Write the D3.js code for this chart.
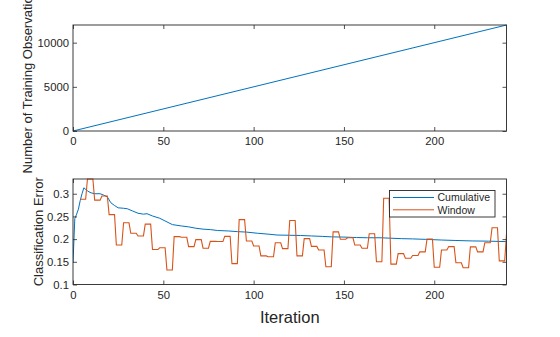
<!DOCTYPE html>
<html><head><meta charset="utf-8">
<script src="https://cdn.jsdelivr.net/npm/d3@7"></script>
<style>
html,body{margin:0;padding:0;background:#fff;}
svg{display:block;font-family:"Liberation Sans",Arial,sans-serif;}
</style></head>
<body>
<svg id="c" width="560" height="337"></svg>
<script>
// ---------- data ----------
const iterMax = 240;
// top plot: number of training observations at iteration
const obsIter = [0, 240];
const obsValues = [0, 12000];

// cumulative classification error (read at selected iterations)
const cumIter = [0,1,2,3,4,5,6,7,8,10,12,15,17,19,21,23,25,28,30,33,36,39,41,44,48,51,55,60,64,68,72,76,80,86,91,96,102,108,113,120,126,132,138,143,150,157,163,170,176,182,188,195,204,212,221,230,240];
const cumValues = [0.148,0.245,0.255,0.266,0.285,0.300,0.313,0.310,0.306,0.302,0.300,0.300,0.297,0.293,0.280,0.274,0.269,0.268,0.267,0.262,0.257,0.255,0.256,0.251,0.246,0.240,0.232,0.229,0.227,0.224,0.222,0.221,0.219,0.218,0.2165,0.2155,0.213,0.211,0.209,0.2085,0.208,0.207,0.206,0.205,0.2045,0.2035,0.203,0.203,0.202,0.201,0.2005,0.1995,0.198,0.197,0.196,0.1955,0.1945];

// window classification error: one value per 4-iteration window (start iteration)
const winStart = [4,8,12,16,20,24,28,32,36,40,44,48,52,56,60,64,68,72,76,80,84,88,92,96,100,104,108,112,116,120,124,128,132,136,140,144,148,152,156,160,164,168,172,176,180,184,188,192,196,200,204,208,212,216,220,224,228,232,236,240];
const winValues = [0.288,0.3325,0.286,0.295,0.254,0.187,0.236,0.213,0.207,0.233,0.177,0.181,0.132,0.2055,0.204,0.1835,0.199,0.180,0.195,0.1946,0.206,0.146,0.243,0.196,0.185,0.163,0.161,0.192,0.179,0.241,0.163,0.201,0.184,0.176,0.139,0.216,0.1997,0.203,0.187,0.180,0.212,0.150,0.290,0.145,0.168,0.158,0.164,0.172,0.200,0.138,0.176,0.1835,0.148,0.137,0.183,0.172,0.192,0.225,0.152,0.211];
const winLen = 4;

const xTicks = [0,50,100,150,200];
const obsTicks = [0,5000,10000];
const errTicks = [0.1,0.15,0.2,0.25,0.3];
const errTickLabels = ["0.1","0.15","0.2","0.25","0.3"];
const seriesNames = ["Cumulative","Window"];

// ---------- layout ----------
const svg = d3.select("#c");
const axisColor = "#262626";
const blue = "#0072BD", orange = "#D95319";
const L = 73, R = 506.5;
const top1 = 25, bot1 = 131;
const top2 = 179, bot2 = 284.5;
const tickFont = "11.3px";

const x = d3.scaleLinear().domain([0, iterMax]).range([L, R]);
const y1 = d3.scaleLinear().domain([0, 12000]).range([bot1, top1]);
const y2 = d3.scaleLinear().domain([0.1, 0.3325]).range([bot2, top2]);

const defs = svg.append("defs");
defs.append("clipPath").attr("id","clip2")
  .append("rect").attr("x",L).attr("y",top2-1).attr("width",R-L).attr("height",bot2-top2+1);
defs.append("clipPath").attr("id","clip1")
  .append("rect").attr("x",L).attr("y",top1-1).attr("width",R-L+1).attr("height",bot1-top1+2);

function styleAxis(g){
  g.select(".domain").remove();
  g.selectAll("line").attr("stroke",axisColor).attr("stroke-width",0.8);
  g.selectAll("text").attr("fill",axisColor).style("font-size",tickFont)
    .style("font-family","'Liberation Sans',Arial,sans-serif");
}

function drawAxes(yScale, yTicks, yFmt, top, bot, pad){
  svg.append("g").attr("transform",`translate(0,${bot})`)
    .call(d3.axisBottom(x).tickValues(xTicks).tickSize(-4).tickPadding(pad).tickFormat(d3.format("d")))
    .call(styleAxis);
  svg.append("g").attr("transform",`translate(0,${top})`)
    .call(d3.axisTop(x).tickValues(xTicks).tickSize(-4).tickFormat(""))
    .call(styleAxis);
  svg.append("g").attr("transform",`translate(${L},0)`)
    .call(d3.axisLeft(yScale).tickValues(yTicks).tickSize(-4).tickPadding(4).tickFormat(yFmt))
    .call(styleAxis);
  svg.append("g").attr("transform",`translate(${R},0)`)
    .call(d3.axisRight(yScale).tickValues(yTicks).tickSize(-4).tickFormat(""))
    .call(styleAxis);
  svg.append("rect").attr("x",L).attr("y",top).attr("width",R-L).attr("height",bot-top)
    .attr("fill","none").attr("stroke",axisColor).attr("stroke-width",0.9);
}

// ---------- top plot ----------
const obsData = obsIter.map((d,i)=>({x:d,y:obsValues[i]}));
svg.append("path").datum(obsData).attr("clip-path","url(#clip1)")
  .attr("d", d3.line().x(d=>x(d.x)).y(d=>y1(d.y)))
  .attr("fill","none").attr("stroke",blue).attr("stroke-width",1);
drawAxes(y1, obsTicks, d3.format("d"), top1, bot1, 5.5);

svg.append("text")
  .attr("transform",`translate(31.5,${(top1+bot1)/2}) rotate(-90)`)
  .attr("text-anchor","middle").attr("fill",axisColor)
  .style("font-size","13px").text("Number of Training Observations");

// ---------- bottom plot ----------
const cumData = cumIter.map((d,i)=>({x:d,y:cumValues[i]}));
const winData = [];
winStart.forEach((s,i)=>{
  winData.push({x:s,y:winValues[i]});
  const e = Math.min(s+winLen-1, iterMax);
  if (e>s) winData.push({x:e,y:winValues[i]});
});
const line2 = d3.line().x(d=>x(d.x)).y(d=>y2(d.y));
svg.append("path").datum(cumData).attr("clip-path","url(#clip2)")
  .attr("d", line2).attr("fill","none").attr("stroke",blue).attr("stroke-width",1);
svg.append("path").datum(winData).attr("clip-path","url(#clip2)")
  .attr("d", line2).attr("fill","none").attr("stroke",orange).attr("stroke-width",1.1);
drawAxes(y2, errTicks, (d,i)=>errTickLabels[errTicks.indexOf(d)], top2, bot2, 6);

svg.append("text")
  .attr("transform",`translate(42.5,${(top2+bot2)/2}) rotate(-90)`)
  .attr("text-anchor","middle").attr("fill",axisColor)
  .style("font-size","13px").text("Classification Error");

svg.append("text").attr("x",(L+R)/2).attr("y",323).attr("text-anchor","middle")
  .attr("fill",axisColor).style("font-size","16.5px").text("Iteration");

// ---------- legend ----------
const lg = svg.append("g");
lg.append("rect").attr("x",389.5).attr("y",190.5).attr("width",105.5).attr("height",26.5)
  .attr("fill","#fff").attr("stroke",axisColor).attr("stroke-width",0.9);
[blue, orange].forEach((c,i)=>{
  const yy = 197.5 + i*12.3;
  lg.append("line").attr("x1",393).attr("x2",434).attr("y1",yy).attr("y2",yy)
    .attr("stroke",c).attr("stroke-width",1);
  lg.append("text").attr("x",437.5).attr("y",yy+3.7).attr("fill",axisColor)
    .style("font-size","10.5px").text(seriesNames[i]);
});
</script>
</body></html>
